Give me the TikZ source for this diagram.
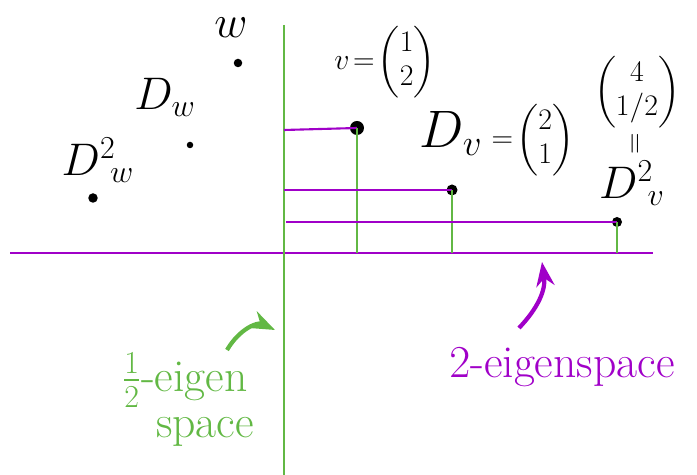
\RequirePackage{fix-cm}
\documentclass[tikz,border=0pt]{standalone}
\usepackage{amsmath,amssymb}
\usepackage{xcolor}
\usepackage{tikz}
\usetikzlibrary{positioning}
\usetikzlibrary{arrows.meta}

\definecolor{twopurple}{RGB}{160,0,200}
\definecolor{halfgreen}{RGB}{98,184,68}

\tikzset{
  twoline/.style={draw=twopurple, line width=1.2pt},
  halfline/.style={draw=halfgreen, line width=1.2pt},
  ptdot/.style={circle, fill=black, inner sep=0pt, minimum size=#1},
  biglbl/.style={font=\fontsize{26}{28}\selectfont},
  veclbl/.style={font=\fontsize{17}{19}\selectfont},
}

\begin{document}
\begin{tikzpicture}[x=0.02cm,y=-0.02cm,>=Stealth]
    \useasboundingbox (0,0) rectangle (697,475);

    % Axes : 2-eigenspace (horizontal) and 1/2-eigenspace (vertical)
    \coordinate (xleft)  at (10,253);
    \coordinate (xright) at (653,253);
    \coordinate (ytop)   at (284,25);
    \coordinate (ybot)   at (284,475);
    \draw[twoline]  (xleft) -- (xright);
    \draw[halfline] (ytop) -- (ybot);

    % Orbit of v
    \node (v)   [ptdot=0.28cm] at (357,128) {};
    \node (Dv)  [ptdot=0.22cm] at (452,190) {};
    \node (DDv) [ptdot=0.2cm]  at (617,222) {};

    \coordinate (vy)   at (284,130);
    \coordinate (vx)   at (357,253);
    \coordinate (Dvy)  at (284,190);
    \coordinate (Dvx)  at (452,253);
    \coordinate (DDvy) at (286,222);
    \coordinate (DDvx) at (617,253);

    \draw[twoline]  (vy) -- (v.center);
    \draw[halfline] (v.center) -- (vx);
    \draw[twoline]  (Dvy) -- (Dv.center);
    \draw[halfline] (Dv.center) -- (Dvx);
    \draw[twoline]  (DDvy) -- (DDv.center);
    \draw[halfline] (DDv.center) -- (DDvx);

    \node (vlbl)   [veclbl] at (385,62) {$v\!=\!\begin{pmatrix}1\\2\end{pmatrix}$};
    \node (Dvlbl)  [veclbl] at (497,140) {{\fontsize{30}{30}\selectfont$D_v$} $=\!\begin{pmatrix}2\\1\end{pmatrix}$};
    \node (DDvvec) [veclbl] at (637,92) {$\begin{pmatrix}4\\1/2\end{pmatrix}$};
    \node (DDveq)  [veclbl, below=-4pt of DDvvec] {\rotatebox{90}{$=$}};
    \node (DDvlbl) [biglbl] at (632,183) {$D^2{}_{\!v}$};

    % Orbit of w
    \node (w)   [ptdot=0.17cm] at (238,63) {};
    \node (Dw)  [ptdot=0.13cm] at (190,145) {};
    \node (DDw) [ptdot=0.19cm] at (93,198) {};

    \node (wlbl)   [biglbl] at (231,28) {$w$};
    \node (Dwlbl)  [biglbl] at (165,97) {$D_w$};
    \node (DDwlbl) [biglbl] at (98,160) {$D^2{}_{\!w}$};

    % Eigenspace labels
    \node (halflbl)  [biglbl, text=halfgreen] at (185,380) {$\tfrac{1}{2}$-eigen};
    \node (spacelbl) [biglbl, text=halfgreen] at (205,432) {space};
    \coordinate (halfa) at (227,350);
    \coordinate (halfb) at (275,330);
    \draw[halfline, line width=2.4pt, ->] (halfa) .. controls (240,328) and (258,322) .. (halfb);

    \node (twolbl) [biglbl, text=twopurple] at (562,367) {$2$-eigenspace};
    \coordinate (twoa) at (519,328);
    \coordinate (twob) at (542,262);
    \draw[twoline, line width=2.4pt, ->] (twoa) .. controls (538,308) and (546,290) .. (twob);
\end{tikzpicture}
\end{document}
